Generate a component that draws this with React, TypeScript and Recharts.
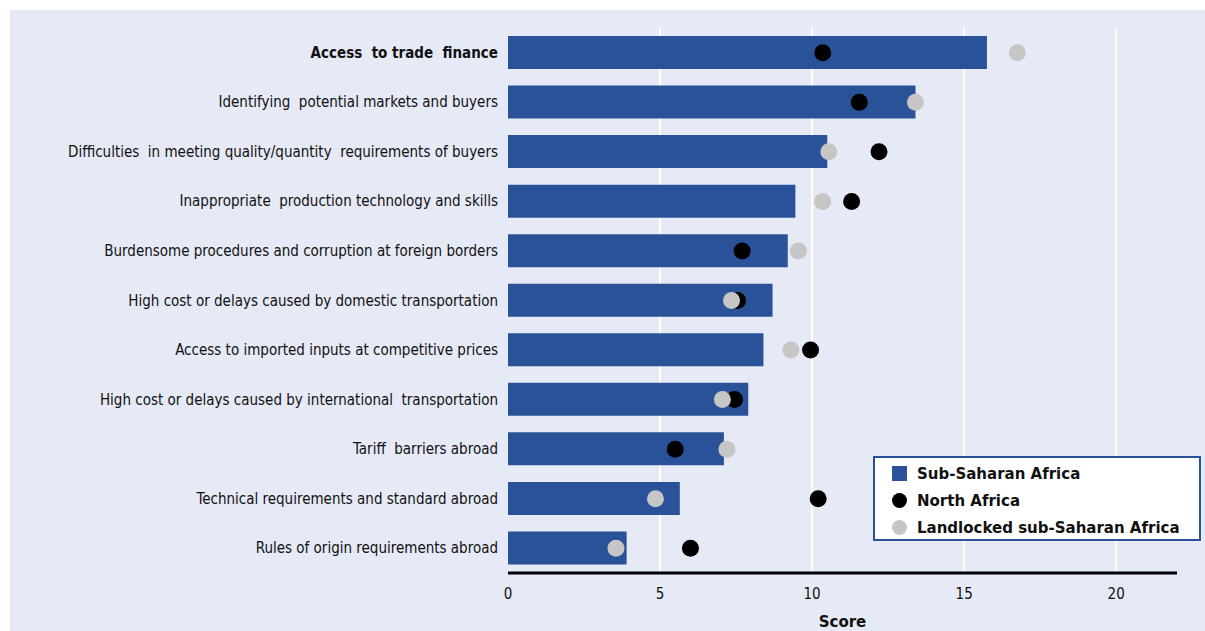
import React from 'react';
import {
  ComposedChart,
  Bar,
  Line,
  XAxis,
  YAxis,
  CartesianGrid,
} from 'recharts';

const categories = [
  'Access  to trade  finance',
  'Identifying  potential markets and buyers',
  'Difficulties  in meeting quality/quantity  requirements of buyers',
  'Inappropriate  production technology and skills',
  'Burdensome procedures and corruption at foreign borders',
  'High cost or delays caused by domestic transportation',
  'Access to imported inputs at competitive prices',
  'High cost or delays caused by international  transportation',
  'Tariff  barriers abroad',
  'Technical requirements and standard abroad',
  'Rules of origin requirements abroad',
];

const subSaharan = [15.75, 13.4, 10.5, 9.45, 9.2, 8.7, 8.4, 7.9, 7.1, 5.65, 3.9];
const northAfrica = [10.35, 11.55, 12.2, 11.3, 7.7, 7.55, 9.95, 7.45, 5.5, 10.2, 6.0];
const landlocked = [16.75, 13.4, 10.55, 10.35, 9.55, 7.35, 9.3, 7.05, 7.2, 4.85, 3.55];

const xTicks = [0, 5, 10, 15, 20];
const gridValues = [5, 10, 15, 20];

const BLUE = '#2a5298';
const GREY = '#c6c6c6';
const FONT = '"DejaVu Sans Condensed", "DejaVu Sans", sans-serif';

const data = categories.map((name, i) => ({
  name,
  ssa: subSaharan[i],
  na: northAfrica[i],
  ll: landlocked[i],
}));

const CategoryTick = (props: any) => {
  const { x, y, payload, index } = props;
  return (
    <text
      x={x}
      y={y}
      dy={5}
      textAnchor="end"
      fontFamily={FONT}
      fontSize={15}
      fontWeight={index === 0 ? 'bold' : 'normal'}
      fill="#111"
      style={{ whiteSpace: 'pre' }}
    >
      {payload.value}
    </text>
  );
};

const legendItems = [
  { label: 'Sub-Saharan Africa', shape: 'square', color: BLUE },
  { label: 'North Africa', shape: 'circle', color: '#000' },
  { label: 'Landlocked sub-Saharan Africa', shape: 'circle', color: GREY },
];

const LegendBox = () => (
  <div
    style={{
      position: 'absolute',
      left: 873,
      top: 456,
      width: 328,
      height: 85,
      background: '#fff',
      border: `2px solid ${BLUE}`,
      boxSizing: 'border-box',
      padding: '2px 0 0 17px',
      fontFamily: '"DejaVu Sans", sans-serif',
      fontWeight: 'bold',
      fontSize: 15,
      color: '#111',
    }}
  >
    {legendItems.map((it) => (
      <div key={it.label} style={{ display: 'flex', alignItems: 'center', height: 27, whiteSpace: 'nowrap' }}>
        <span
          style={{
            display: 'inline-block',
            width: 15,
            height: 15,
            background: it.color,
            borderRadius: it.shape === 'circle' ? '50%' : 0,
            marginRight: 10,
            flex: 'none',
          }}
        />
        <span>{it.label}</span>
      </div>
    ))}
  </div>
);

export default function App() {
  return (
    <div style={{ position: 'absolute', left: 0, top: 0, width: 1205, height: 631, background: '#fff' }}>
      <div
        style={{
          position: 'absolute',
          left: 10,
          top: 10,
          width: 1195,
          height: 621,
          background: '#e6e9f6',
        }}
      />
      <div style={{ position: 'absolute', left: 0, top: 0 }}>
        <ComposedChart
          width={1205}
          height={631}
          data={data}
          layout="vertical"
          margin={{ top: 28, right: 28, bottom: 28, left: 0 }}
        >
          <CartesianGrid horizontal={false} verticalValues={gridValues} stroke="#ffffff" strokeWidth={2} />
          <XAxis
            type="number"
            domain={[0, 22]}
            ticks={xTicks}
            height={30}
            axisLine={{ stroke: '#000', strokeWidth: 3 }}
            tickLine={false}
            tickMargin={9}
            tick={{ fontFamily: FONT, fontSize: 15, fill: '#111' }}
            label={{
              value: 'Score',
              position: 'insideBottom',
              offset: -24,
              style: { fontFamily: '"DejaVu Sans", sans-serif', fontWeight: 'bold', fontSize: 15, fill: '#111' },
            }}
          />
          <YAxis
            type="category"
            dataKey="name"
            width={508}
            axisLine={false}
            tickLine={false}
            tickSize={0}
            tickMargin={10}
            interval={0}
            tick={<CategoryTick />}
          />
          <Bar dataKey="ssa" name="Sub-Saharan Africa" fill={BLUE} barSize={33} isAnimationActive={false} />
          <Line
            dataKey="na"
            name="North Africa"
            stroke="none"
            dot={{ r: 8.5, fill: '#000', stroke: 'none' }}
            activeDot={false}
            isAnimationActive={false}
          />
          <Line
            dataKey="ll"
            name="Landlocked sub-Saharan Africa"
            stroke="none"
            dot={{ r: 8.5, fill: GREY, stroke: 'none' }}
            activeDot={false}
            isAnimationActive={false}
          />
        </ComposedChart>
      </div>
      <LegendBox />
    </div>
  );
}
